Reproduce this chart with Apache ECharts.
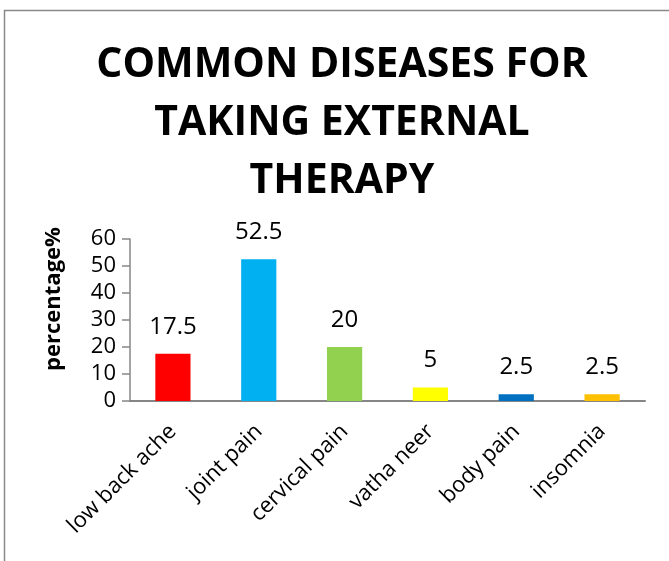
<!DOCTYPE html>
<html><head><meta charset="utf-8">
<script src="https://cdn.jsdelivr.net/npm/echarts@6/dist/echarts.min.js"></script>
<style>html,body{margin:0;padding:0;background:#fff}#c{width:669px;height:561px}</style>
</head><body><div id="c"></div>
<script>
const titleText = "COMMON DISEASES FOR\nTAKING EXTERNAL\nTHERAPY";
const categories = ["low back ache", "joint pain", "cervical pain", "vatha neer", "body pain", "insomnia"];
const values = [17.5, 52.5, 20, 5, 2.5, 2.5];
const barColors = ["#FF0000", "#00B0F0", "#92D050", "#FFFF00", "#0070C0", "#FFC000"];
const yTicks = [0, 10, 20, 30, 40, 50, 60];
const yName = "percentage%";

const FONT = "Open Sans";
const chart = echarts.init(document.getElementById('c'), null, {renderer: 'canvas'});
chart.setOption({
  animation: false,
  backgroundColor: '#fff',
  graphic: [{
    type: 'rect', shape: {x: 4.5, y: 10.5, width: 800, height: 700},
    style: {fill: 'none', stroke: '#898989', lineWidth: 1.5}, z: 0
  }],
  title: {
    text: titleText, left: 337, top: 31, textAlign: 'center',
    textStyle: {fontFamily: FONT, fontWeight: 'bold', fontSize: 41, lineHeight: 58, color: '#000'}
  },
  grid: {left: 130, right: 24, top: 239, bottom: 160},
  xAxis: {
    type: 'category', data: categories,
    axisLine: {lineStyle: {color: '#868686', width: 2}},
    axisTick: {show: false},
    axisLabel: {rotate: 45, interval: 0, margin: 27, color: '#000', fontFamily: FONT, fontSize: 22}
  },
  yAxis: {
    type: 'value', min: yTicks[0], max: yTicks[yTicks.length - 1], interval: 10,
    name: yName, nameLocation: 'middle', nameGap: 65,
    nameTextStyle: {fontFamily: FONT, fontWeight: 'bold', fontSize: 22, color: '#000', padding: [0, 0, 0, 42]},
    axisLine: {show: true, lineStyle: {color: '#868686', width: 1.5}},
    axisTick: {show: true, length: 8, inside: false, lineStyle: {color: '#868686', width: 1.5}},
    splitLine: {show: false},
    axisLabel: {color: '#000', fontFamily: FONT, fontSize: 22, margin: 14}
  },
  series: [{
    type: 'bar', barWidth: '41%',
    data: values.map((v, i) => ({value: v, itemStyle: {color: barColors[i]}})),
    label: {show: true, position: 'top', distance: 15, color: '#000', fontFamily: FONT, fontSize: 24}
  }]
});
</script></body></html>
